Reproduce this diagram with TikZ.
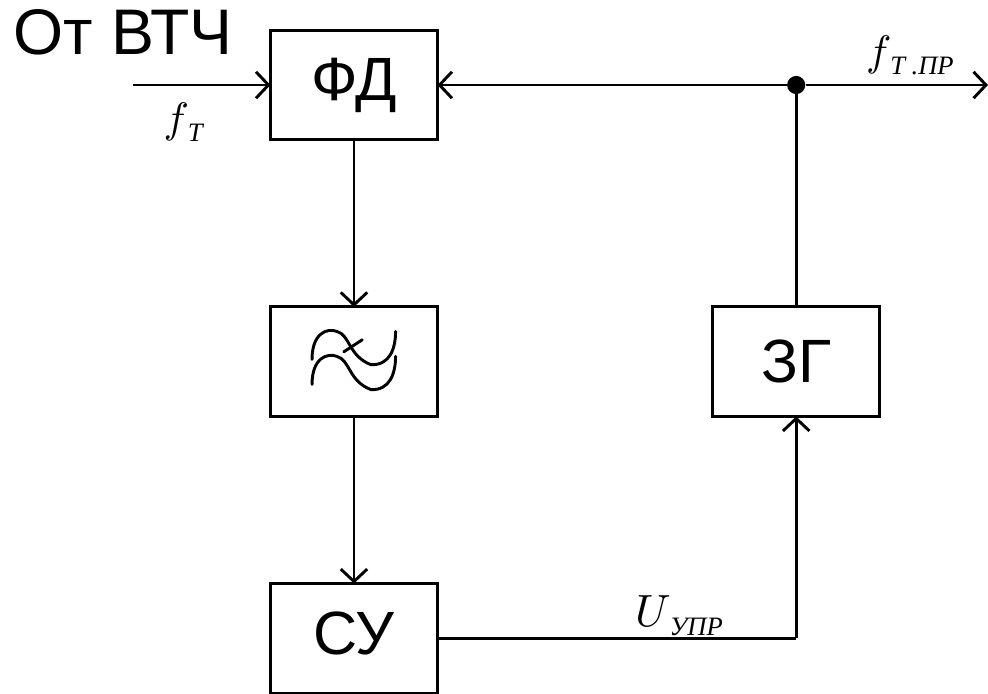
\documentclass[tikz,border=0pt]{standalone}
\usepackage{fontspec}
\setmainfont{Liberation Sans}
\newfontfamily\subfont{Liberation Serif}
\usetikzlibrary{arrows.meta,positioning,calc}
\DeclareFontShape{OML}{cmm}{m}{it}{<->cmmi10}{}
\newcommand{\sigf}[3][32]{{\fontsize{#1}{#1}\selectfont$#2$}\kern-1pt\raisebox{-7pt}{\fontsize{20}{20}\subfont\itshape #3}}

\begin{document}
\begin{tikzpicture}[
        blockbox/.style={draw=black, line width=2.2pt, outer sep=0pt, minimum width=4.42cm, minimum height=2.9cm, inner sep=0pt, font=\fontsize{46}{46}\selectfont},
        arr/.style={-{Straight Barb[length=3.3mm,width=7mm]}, line width=2.2pt},
        wire/.style={line width=2.2pt},
        wave/.style={line width=2.2pt, line cap=round},
        lbl/.style={inner sep=0pt}
      ]
        \useasboundingbox (-9.366,2.249) rectangle (16.775,-16.088);
        \node[blockbox] (fd) at (0,0) {ФД};
        \node[blockbox, below=4.42cm of fd] (filter) {};
        \node[blockbox, below=4.42cm of filter] (su) {\raisebox{3.5pt}[\height][\depth]{СУ}};
        \node[blockbox, right=7.28cm of filter] (zg) {ЗГ};
        \node[circle, fill=black, minimum size=0.48cm, inner sep=0pt] (dot) at (zg.north |- fd) {};
        \coordinate (input) at (-5.85,0);
        \coordinate (output) at (16.775,0);
        \coordinate (bend) at (zg.south |- su);
        % filter symbol
        \foreach \dy in {0,-0.66} {
          \draw[wave] ($(filter.center)+(-1.11,0.06+\dy)$) .. controls ($(filter.center)+(-1.11,0.75+\dy)$) and ($(filter.center)+(-0.72,0.9+\dy)$) .. ($(filter.center)+(-0.45,0.8+\dy)$)
            .. controls ($(filter.center)+(-0.1,0.7+\dy)$) and ($(filter.center)+(-0.15,0.15+\dy)$) .. ($(filter.center)+(0.45,-0.08+\dy)$)
            .. controls ($(filter.center)+(0.95,-0.1+\dy)$) and ($(filter.center)+(1.1,0.35+\dy)$) .. ($(filter.center)+(1.1,0.8+\dy)$);
        }
        \draw[wave] ($(filter.center)+(-0.27,0.26)$) -- ($(filter.center)+(0.22,0.58)$);
        \draw[arr] (input) -- (fd);
        \draw[arr] (dot) -- (fd);
        \draw[wire] (zg) -- (dot);
        \draw[arr] (dot) -- (output);
        \draw[arr] (fd) -- (filter);
        \draw[arr] (filter) -- (su);
        \draw[wire] (su) -- (bend);
        \draw[arr] (bend) -- (zg);
        \node[lbl, font=\fontsize{48.5}{48.5}\selectfont] (source) at (-6.11,1.39) {От ВТЧ};
        \node[lbl] (ft) at (-4.52,-0.98) {\sigf{f}{Т}};
        \node[lbl] (ftpr) at (14.71,0.79) {\sigf{f}{Т .ПР}};
        \node[lbl] (uupr) at (8.6,-14.05) {\sigf[34]{U}{УПР}};
      \end{tikzpicture}
\end{document}
